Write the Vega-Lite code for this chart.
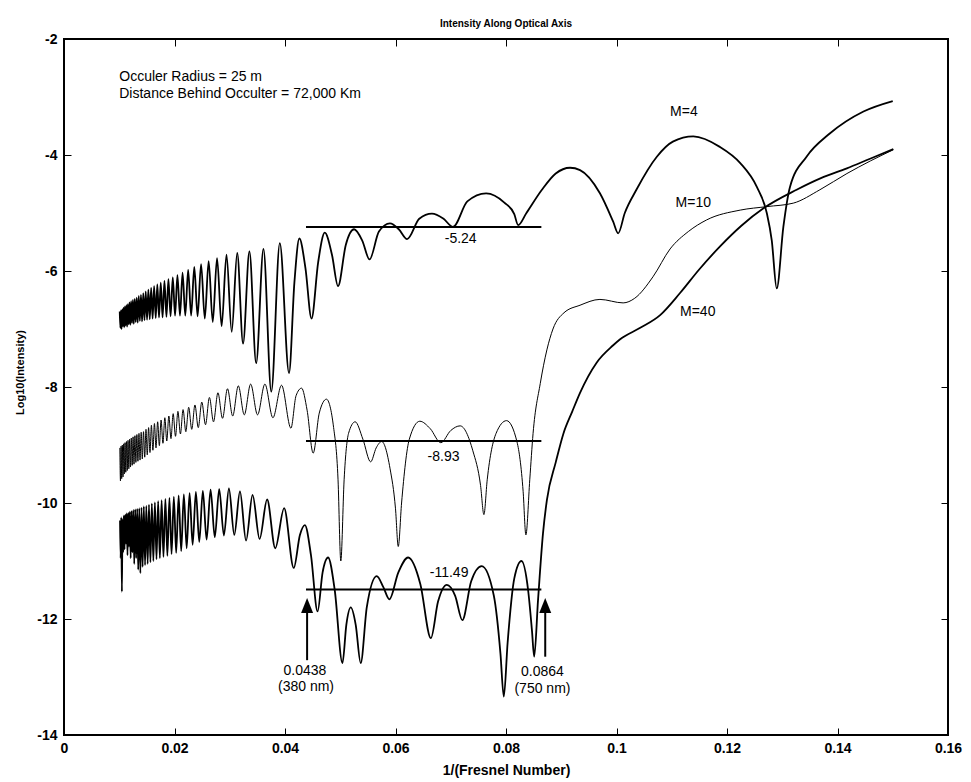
{
  "$schema": "https://vega.github.io/schema/vega-lite/v6.json",
  "width": 884,
  "height": 696,
  "autosize": {"type": "none"},
  "padding": {"left": 64, "top": 39, "right": 23, "bottom": 47},
  "background": "white",
  "title": {"text": "Intensity Along Optical Axis", "font": "Liberation Sans", "fontSize": 10, "fontWeight": "bold", "color": "black", "anchor": "middle", "offset": 3},
  "config": {
    "view": {"stroke": "black", "strokeWidth": 2},
    "axis": {"domain": false, "grid": false, "tickColor": "black", "tickWidth": 1, "tickSize": -7, "labelFont": "Liberation Sans", "labelFontSize": 14, "labelFontWeight": "bold", "labelColor": "black", "labelFlush": false, "labelOverlap": false, "titleFont": "Liberation Sans", "titleColor": "black", "titleFontWeight": "bold"}
  },
  "datasets": {
    "curves": [
      {"s":"M=4","x":0.01009,"y":-6.70},{"s":"M=4","x":0.01020,"y":-6.98},{"s":"M=4","x":0.01031,"y":-6.68},{"s":"M=4","x":0.01042,"y":-7.00},
      {"s":"M=4","x":0.01054,"y":-6.66},{"s":"M=4","x":0.01066,"y":-6.95},{"s":"M=4","x":0.01078,"y":-6.63},{"s":"M=4","x":0.01090,"y":-6.97},
      {"s":"M=4","x":0.01103,"y":-6.61},{"s":"M=4","x":0.01115,"y":-6.94},{"s":"M=4","x":0.01129,"y":-6.59},{"s":"M=4","x":0.01142,"y":-6.96},
      {"s":"M=4","x":0.01156,"y":-6.57},{"s":"M=4","x":0.01170,"y":-6.92},{"s":"M=4","x":0.01185,"y":-6.54},{"s":"M=4","x":0.01200,"y":-6.93},
      {"s":"M=4","x":0.01215,"y":-6.52},{"s":"M=4","x":0.01231,"y":-6.90},{"s":"M=4","x":0.01247,"y":-6.50},{"s":"M=4","x":0.01263,"y":-6.91},
      {"s":"M=4","x":0.01280,"y":-6.48},{"s":"M=4","x":0.01298,"y":-6.88},{"s":"M=4","x":0.01316,"y":-6.46},{"s":"M=4","x":0.01334,"y":-6.89},
      {"s":"M=4","x":0.01353,"y":-6.43},{"s":"M=4","x":0.01373,"y":-6.86},{"s":"M=4","x":0.01393,"y":-6.41},{"s":"M=4","x":0.01413,"y":-6.87},
      {"s":"M=4","x":0.01435,"y":-6.38},{"s":"M=4","x":0.01457,"y":-6.85},{"s":"M=4","x":0.01479,"y":-6.35},{"s":"M=4","x":0.01503,"y":-6.84},
      {"s":"M=4","x":0.01527,"y":-6.32},{"s":"M=4","x":0.01552,"y":-6.83},{"s":"M=4","x":0.01577,"y":-6.29},{"s":"M=4","x":0.01604,"y":-6.82},
      {"s":"M=4","x":0.01631,"y":-6.26},{"s":"M=4","x":0.01660,"y":-6.81},{"s":"M=4","x":0.01689,"y":-6.23},{"s":"M=4","x":0.01720,"y":-6.80},
      {"s":"M=4","x":0.01751,"y":-6.20},{"s":"M=4","x":0.01784,"y":-6.80},{"s":"M=4","x":0.01818,"y":-6.17},{"s":"M=4","x":0.01854,"y":-6.79},
      {"s":"M=4","x":0.01890,"y":-6.14},{"s":"M=4","x":0.01929,"y":-6.78},{"s":"M=4","x":0.01969,"y":-6.11},{"s":"M=4","x":0.02010,"y":-6.77},
      {"s":"M=4","x":0.02053,"y":-6.07},{"s":"M=4","x":0.02099,"y":-6.77},{"s":"M=4","x":0.02146,"y":-6.03},{"s":"M=4","x":0.02195,"y":-6.77},
      {"s":"M=4","x":0.02247,"y":-5.98},{"s":"M=4","x":0.02301,"y":-6.77},{"s":"M=4","x":0.02358,"y":-5.93},{"s":"M=4","x":0.02418,"y":-6.78},
      {"s":"M=4","x":0.02481,"y":-5.88},{"s":"M=4","x":0.02548,"y":-6.82},{"s":"M=4","x":0.02618,"y":-5.83},{"s":"M=4","x":0.02692,"y":-6.88},
      {"s":"M=4","x":0.02770,"y":-5.78},{"s":"M=4","x":0.02853,"y":-6.95},{"s":"M=4","x":0.02941,"y":-5.72},{"s":"M=4","x":0.03035,"y":-7.05},
      {"s":"M=4","x":0.03135,"y":-5.69},{"s":"M=4","x":0.03241,"y":-7.25},{"s":"M=4","x":0.03356,"y":-5.66},{"s":"M=4","x":0.03478,"y":-7.59},
      {"s":"M=4","x":0.03610,"y":-5.62},{"s":"M=4","x":0.03752,"y":-8.08},{"s":"M=4","x":0.03906,"y":-5.52},{"s":"M=4","x":0.04073,"y":-7.76},
      {"s":"M=4","x":0.0417,"y":-6.2},{"s":"M=4","x":0.0426,"y":-5.44},{"s":"M=4","x":0.0437,"y":-5.95},{"s":"M=4","x":0.0448,"y":-6.82},
      {"s":"M=4","x":0.0460,"y":-5.85},{"s":"M=4","x":0.0472,"y":-5.34},{"s":"M=4","x":0.0485,"y":-5.72},{"s":"M=4","x":0.0496,"y":-6.26},
      {"s":"M=4","x":0.0510,"y":-5.55},{"s":"M=4","x":0.0525,"y":-5.28},{"s":"M=4","x":0.0540,"y":-5.48},{"s":"M=4","x":0.0553,"y":-5.80},
      {"s":"M=4","x":0.0570,"y":-5.32},{"s":"M=4","x":0.0590,"y":-5.18},{"s":"M=4","x":0.0606,"y":-5.28},{"s":"M=4","x":0.0621,"y":-5.45},
      {"s":"M=4","x":0.0643,"y":-5.10},{"s":"M=4","x":0.0666,"y":-5.01},{"s":"M=4","x":0.0687,"y":-5.10},{"s":"M=4","x":0.0704,"y":-5.24},
      {"s":"M=4","x":0.0730,"y":-4.80},{"s":"M=4","x":0.0764,"y":-4.66},{"s":"M=4","x":0.0797,"y":-4.82},{"s":"M=4","x":0.0815,"y":-5.02},
      {"s":"M=4","x":0.0822,"y":-5.21},{"s":"M=4","x":0.0837,"y":-5.0},{"s":"M=4","x":0.0865,"y":-4.60},{"s":"M=4","x":0.0890,"y":-4.32},
      {"s":"M=4","x":0.0916,"y":-4.22},{"s":"M=4","x":0.0934,"y":-4.26},{"s":"M=4","x":0.0970,"y":-4.66},{"s":"M=4","x":0.0994,"y":-5.15},
      {"s":"M=4","x":0.1003,"y":-5.35},{"s":"M=4","x":0.1015,"y":-5.0},{"s":"M=4","x":0.1036,"y":-4.60},{"s":"M=4","x":0.1073,"y":-4.03},
      {"s":"M=4","x":0.1102,"y":-3.77},{"s":"M=4","x":0.1139,"y":-3.68},{"s":"M=4","x":0.1187,"y":-3.86},{"s":"M=4","x":0.1224,"y":-4.14},
      {"s":"M=4","x":0.1254,"y":-4.55},{"s":"M=4","x":0.1272,"y":-5.0},{"s":"M=4","x":0.1281,"y":-5.47},{"s":"M=4","x":0.1290,"y":-6.30},
      {"s":"M=4","x":0.1302,"y":-5.24},{"s":"M=4","x":0.1314,"y":-4.55},{"s":"M=4","x":0.1344,"y":-4.03},{"s":"M=4","x":0.1386,"y":-3.63},
      {"s":"M=4","x":0.1447,"y":-3.25},{"s":"M=4","x":0.1500,"y":-3.07},

      {"s":"M=10","x":0.01011,"y":-9.05},{"s":"M=10","x":0.01022,"y":-9.62},{"s":"M=10","x":0.01033,"y":-9.02},{"s":"M=10","x":0.01044,"y":-9.58},
      {"s":"M=10","x":0.01056,"y":-9.00},{"s":"M=10","x":0.01068,"y":-9.55},{"s":"M=10","x":0.01080,"y":-8.98},{"s":"M=10","x":0.01092,"y":-9.50},
      {"s":"M=10","x":0.01105,"y":-8.96},{"s":"M=10","x":0.01118,"y":-9.47},{"s":"M=10","x":0.01131,"y":-8.94},{"s":"M=10","x":0.01145,"y":-9.44},
      {"s":"M=10","x":0.01159,"y":-8.92},{"s":"M=10","x":0.01173,"y":-9.41},{"s":"M=10","x":0.01188,"y":-8.90},{"s":"M=10","x":0.01203,"y":-9.38},
      {"s":"M=10","x":0.01218,"y":-8.88},{"s":"M=10","x":0.01234,"y":-9.35},{"s":"M=10","x":0.01250,"y":-8.86},{"s":"M=10","x":0.01267,"y":-9.33},
      {"s":"M=10","x":0.01284,"y":-8.84},{"s":"M=10","x":0.01301,"y":-9.30},{"s":"M=10","x":0.01319,"y":-8.82},{"s":"M=10","x":0.01338,"y":-9.28},
      {"s":"M=10","x":0.01357,"y":-8.80},{"s":"M=10","x":0.01376,"y":-9.26},{"s":"M=10","x":0.01397,"y":-8.78},{"s":"M=10","x":0.01417,"y":-9.24},
      {"s":"M=10","x":0.01439,"y":-8.77},{"s":"M=10","x":0.01461,"y":-9.21},{"s":"M=10","x":0.01484,"y":-8.73},{"s":"M=10","x":0.01507,"y":-9.17},
      {"s":"M=10","x":0.01531,"y":-8.70},{"s":"M=10","x":0.01556,"y":-9.13},{"s":"M=10","x":0.01582,"y":-8.66},{"s":"M=10","x":0.01609,"y":-9.09},
      {"s":"M=10","x":0.01637,"y":-8.63},{"s":"M=10","x":0.01665,"y":-9.05},{"s":"M=10","x":0.01695,"y":-8.60},{"s":"M=10","x":0.01726,"y":-9.01},
      {"s":"M=10","x":0.01757,"y":-8.57},{"s":"M=10","x":0.01791,"y":-8.97},{"s":"M=10","x":0.01825,"y":-8.53},{"s":"M=10","x":0.01860,"y":-8.93},
      {"s":"M=10","x":0.01898,"y":-8.50},{"s":"M=10","x":0.01936,"y":-8.89},{"s":"M=10","x":0.01976,"y":-8.46},{"s":"M=10","x":0.02018,"y":-8.85},
      {"s":"M=10","x":0.02062,"y":-8.42},{"s":"M=10","x":0.02107,"y":-8.81},{"s":"M=10","x":0.02155,"y":-8.39},{"s":"M=10","x":0.02205,"y":-8.77},
      {"s":"M=10","x":0.02257,"y":-8.35},{"s":"M=10","x":0.02312,"y":-8.73},{"s":"M=10","x":0.02370,"y":-8.31},{"s":"M=10","x":0.02430,"y":-8.70},
      {"s":"M=10","x":0.02494,"y":-8.26},{"s":"M=10","x":0.02561,"y":-8.65},{"s":"M=10","x":0.02632,"y":-8.18},{"s":"M=10","x":0.02706,"y":-8.60},
      {"s":"M=10","x":0.02786,"y":-8.10},{"s":"M=10","x":0.02869,"y":-8.54},{"s":"M=10","x":0.02959,"y":-8.03},{"s":"M=10","x":0.03053,"y":-8.50},
      {"s":"M=10","x":0.03155,"y":-7.98},{"s":"M=10","x":0.03263,"y":-8.48},{"s":"M=10","x":0.03378,"y":-7.95},{"s":"M=10","x":0.03503,"y":-8.48},
      {"s":"M=10","x":0.03636,"y":-7.95},{"s":"M=10","x":0.03781,"y":-8.53},{"s":"M=10","x":0.03937,"y":-7.97},{"s":"M=10","x":0.04107,"y":-8.71},
      {"s":"M=10","x":0.0420,"y":-8.15},{"s":"M=10","x":0.0430,"y":-8.02},{"s":"M=10","x":0.0440,"y":-8.40},{"s":"M=10","x":0.0451,"y":-9.14},
      {"s":"M=10","x":0.0462,"y":-8.45},{"s":"M=10","x":0.0475,"y":-8.21},{"s":"M=10","x":0.0488,"y":-8.70},{"s":"M=10","x":0.0496,"y":-9.60},
      {"s":"M=10","x":0.0501,"y":-11.0},{"s":"M=10","x":0.0507,"y":-9.60},{"s":"M=10","x":0.0515,"y":-8.80},{"s":"M=10","x":0.0527,"y":-8.60},
      {"s":"M=10","x":0.0541,"y":-8.90},{"s":"M=10","x":0.0555,"y":-9.29},{"s":"M=10","x":0.0565,"y":-9.05},{"s":"M=10","x":0.0575,"y":-8.94},
      {"s":"M=10","x":0.0590,"y":-9.40},{"s":"M=10","x":0.0600,"y":-10.1},{"s":"M=10","x":0.0605,"y":-10.75},{"s":"M=10","x":0.0611,"y":-10.0},
      {"s":"M=10","x":0.0625,"y":-8.90},{"s":"M=10","x":0.0644,"y":-8.59},{"s":"M=10","x":0.0663,"y":-8.72},{"s":"M=10","x":0.0682,"y":-8.96},
      {"s":"M=10","x":0.0700,"y":-8.75},{"s":"M=10","x":0.0717,"y":-8.67},{"s":"M=10","x":0.0740,"y":-9.10},{"s":"M=10","x":0.0754,"y":-9.70},
      {"s":"M=10","x":0.0760,"y":-10.2},{"s":"M=10","x":0.0766,"y":-9.60},{"s":"M=10","x":0.0782,"y":-8.80},{"s":"M=10","x":0.0801,"y":-8.58},
      {"s":"M=10","x":0.0820,"y":-8.95},{"s":"M=10","x":0.0831,"y":-9.80},{"s":"M=10","x":0.0836,"y":-10.55},{"s":"M=10","x":0.0843,"y":-9.60},
      {"s":"M=10","x":0.0849,"y":-8.80},{"s":"M=10","x":0.0862,"y":-7.94},{"s":"M=10","x":0.0874,"y":-7.36},{"s":"M=10","x":0.0885,"y":-7.00},
      {"s":"M=10","x":0.0905,"y":-6.72},{"s":"M=10","x":0.0934,"y":-6.59},{"s":"M=10","x":0.0970,"y":-6.49},{"s":"M=10","x":0.1012,"y":-6.55},
      {"s":"M=10","x":0.1033,"y":-6.47},{"s":"M=10","x":0.1066,"y":-6.10},{"s":"M=10","x":0.1097,"y":-5.62},{"s":"M=10","x":0.1130,"y":-5.32},
      {"s":"M=10","x":0.1163,"y":-5.12},{"s":"M=10","x":0.1224,"y":-4.95},{"s":"M=10","x":0.1272,"y":-4.89},{"s":"M=10","x":0.1320,"y":-4.83},
      {"s":"M=10","x":0.1368,"y":-4.60},{"s":"M=10","x":0.1417,"y":-4.32},{"s":"M=10","x":0.1460,"y":-4.10},{"s":"M=10","x":0.1501,"y":-3.91},

      {"s":"M=40","x":0.01014,"y":-10.30},{"s":"M=40","x":0.01025,"y":-10.95},{"s":"M=40","x":0.01036,"y":-10.25},{"s":"M=40","x":0.01048,"y":-11.53},
      {"s":"M=40","x":0.01059,"y":-10.28},{"s":"M=40","x":0.01071,"y":-10.85},{"s":"M=40","x":0.01083,"y":-10.22},{"s":"M=40","x":0.01096,"y":-10.80},
      {"s":"M=40","x":0.01109,"y":-10.20},{"s":"M=40","x":0.01122,"y":-10.70},{"s":"M=40","x":0.01135,"y":-10.18},{"s":"M=40","x":0.01149,"y":-10.90},
      {"s":"M=40","x":0.01163,"y":-10.17},{"s":"M=40","x":0.01177,"y":-10.75},{"s":"M=40","x":0.01192,"y":-10.15},{"s":"M=40","x":0.01207,"y":-10.95},
      {"s":"M=40","x":0.01222,"y":-10.14},{"s":"M=40","x":0.01238,"y":-10.85},{"s":"M=40","x":0.01255,"y":-10.12},{"s":"M=40","x":0.01271,"y":-11.05},
      {"s":"M=40","x":0.01289,"y":-10.11},{"s":"M=40","x":0.01306,"y":-10.95},{"s":"M=40","x":0.01325,"y":-10.10},{"s":"M=40","x":0.01343,"y":-11.15},
      {"s":"M=40","x":0.01362,"y":-10.09},{"s":"M=40","x":0.01382,"y":-11.21},{"s":"M=40","x":0.01403,"y":-10.08},{"s":"M=40","x":0.01423,"y":-11.10},
      {"s":"M=40","x":0.01445,"y":-10.06},{"s":"M=40","x":0.01467,"y":-11.07},{"s":"M=40","x":0.01490,"y":-10.05},{"s":"M=40","x":0.01514,"y":-11.05},
      {"s":"M=40","x":0.01538,"y":-10.03},{"s":"M=40","x":0.01564,"y":-11.02},{"s":"M=40","x":0.01590,"y":-10.01},{"s":"M=40","x":0.01617,"y":-11.00},
      {"s":"M=40","x":0.01645,"y":-9.99},{"s":"M=40","x":0.01674,"y":-10.97},{"s":"M=40","x":0.01704,"y":-9.97},{"s":"M=40","x":0.01735,"y":-10.95},
      {"s":"M=40","x":0.01767,"y":-9.95},{"s":"M=40","x":0.01800,"y":-10.93},{"s":"M=40","x":0.01835,"y":-9.93},{"s":"M=40","x":0.01871,"y":-10.91},
      {"s":"M=40","x":0.01908,"y":-9.91},{"s":"M=40","x":0.01947,"y":-10.88},{"s":"M=40","x":0.01988,"y":-9.89},{"s":"M=40","x":0.02030,"y":-10.86},
      {"s":"M=40","x":0.02075,"y":-9.87},{"s":"M=40","x":0.02121,"y":-10.83},{"s":"M=40","x":0.02169,"y":-9.85},{"s":"M=40","x":0.02220,"y":-10.78},
      {"s":"M=40","x":0.02273,"y":-9.83},{"s":"M=40","x":0.02328,"y":-10.72},{"s":"M=40","x":0.02387,"y":-9.81},{"s":"M=40","x":0.02448,"y":-10.67},
      {"s":"M=40","x":0.02513,"y":-9.79},{"s":"M=40","x":0.02581,"y":-10.63},{"s":"M=40","x":0.02653,"y":-9.77},{"s":"M=40","x":0.02729,"y":-10.59},
      {"s":"M=40","x":0.02809,"y":-9.76},{"s":"M=40","x":0.02894,"y":-10.56},{"s":"M=40","x":0.02985,"y":-9.75},{"s":"M=40","x":0.03082,"y":-10.55},
      {"s":"M=40","x":0.03185,"y":-9.80},{"s":"M=40","x":0.03295,"y":-10.65},{"s":"M=40","x":0.03413,"y":-9.86},{"s":"M=40","x":0.03540,"y":-10.62},
      {"s":"M=40","x":0.03676,"y":-9.94},{"s":"M=40","x":0.03824,"y":-10.78},{"s":"M=40","x":0.03984,"y":-10.09},{"s":"M=40","x":0.04158,"y":-11.12},
      {"s":"M=40","x":0.0427,"y":-10.55},{"s":"M=40","x":0.0436,"y":-10.38},{"s":"M=40","x":0.0447,"y":-10.90},{"s":"M=40","x":0.0459,"y":-11.87},
      {"s":"M=40","x":0.0468,"y":-11.20},{"s":"M=40","x":0.0478,"y":-10.94},{"s":"M=40","x":0.0490,"y":-11.50},{"s":"M=40","x":0.0504,"y":-12.76},
      {"s":"M=40","x":0.0511,"y":-12.10},{"s":"M=40","x":0.0519,"y":-11.80},{"s":"M=40","x":0.0528,"y":-12.10},{"s":"M=40","x":0.0537,"y":-12.76},
      {"s":"M=40","x":0.0548,"y":-11.80},{"s":"M=40","x":0.0566,"y":-11.26},{"s":"M=40","x":0.0578,"y":-11.45},{"s":"M=40","x":0.0589,"y":-11.66},
      {"s":"M=40","x":0.0605,"y":-11.20},{"s":"M=40","x":0.0623,"y":-10.94},{"s":"M=40","x":0.0645,"y":-11.40},{"s":"M=40","x":0.0664,"y":-12.33},
      {"s":"M=40","x":0.0677,"y":-11.70},{"s":"M=40","x":0.0693,"y":-11.41},{"s":"M=40","x":0.0708,"y":-11.60},{"s":"M=40","x":0.0721,"y":-12.02},
      {"s":"M=40","x":0.0737,"y":-11.35},{"s":"M=40","x":0.0756,"y":-11.09},{"s":"M=40","x":0.0778,"y":-11.60},{"s":"M=40","x":0.0790,"y":-12.60},
      {"s":"M=40","x":0.0796,"y":-13.34},{"s":"M=40","x":0.0803,"y":-12.40},{"s":"M=40","x":0.0815,"y":-11.30},{"s":"M=40","x":0.0828,"y":-11.00},
      {"s":"M=40","x":0.0840,"y":-11.50},{"s":"M=40","x":0.0847,"y":-12.20},{"s":"M=40","x":0.0851,"y":-12.65},{"s":"M=40","x":0.0858,"y":-11.67},
      {"s":"M=40","x":0.0867,"y":-10.52},{"s":"M=40","x":0.0874,"y":-9.95},{"s":"M=40","x":0.0890,"y":-9.30},{"s":"M=40","x":0.0904,"y":-8.80},
      {"s":"M=40","x":0.0920,"y":-8.42},{"s":"M=40","x":0.0934,"y":-8.10},{"s":"M=40","x":0.0964,"y":-7.58},{"s":"M=40","x":0.0994,"y":-7.28},
      {"s":"M=40","x":0.1006,"y":-7.18},{"s":"M=40","x":0.1043,"y":-6.98},{"s":"M=40","x":0.1079,"y":-6.76},{"s":"M=40","x":0.1115,"y":-6.38},
      {"s":"M=40","x":0.1150,"y":-5.97},{"s":"M=40","x":0.1187,"y":-5.58},{"s":"M=40","x":0.1226,"y":-5.22},{"s":"M=40","x":0.1266,"y":-4.92},
      {"s":"M=40","x":0.1326,"y":-4.60},{"s":"M=40","x":0.1370,"y":-4.40},{"s":"M=40","x":0.1417,"y":-4.23},{"s":"M=40","x":0.1460,"y":-4.06},
      {"s":"M=40","x":0.1501,"y":-3.90}
    ],
    "hlines": [
      {"x": 0.0438, "x2": 0.0864, "y": -5.24},
      {"x": 0.0438, "x2": 0.0864, "y": -8.93},
      {"x": 0.0438, "x2": 0.0864, "y": -11.49}
    ],
    "arrows": [
      {"x": 0.0440, "y": -12.71, "y2": -11.81},
      {"x": 0.0871, "y": -12.65, "y2": -11.81}
    ],
    "ctext": [
      {"x": 0.1122, "y": -3.26, "t": "M=4"},
      {"x": 0.1139, "y": -4.83, "t": "M=10"},
      {"x": 0.1147, "y": -6.70, "t": "M=40"},
      {"x": 0.0718, "y": -5.44, "t": "-5.24"},
      {"x": 0.0687, "y": -9.21, "t": "-8.93"},
      {"x": 0.0697, "y": -11.20, "t": "-11.49"},
      {"x": 0.0436, "y": -12.89, "t": "0.0438"},
      {"x": 0.0438, "y": -13.17, "t": "(380 nm)"},
      {"x": 0.0866, "y": -12.91, "t": "0.0864"},
      {"x": 0.0866, "y": -13.20, "t": "(750 nm)"}
    ],
    "ltext": [
      {"x": 0.0100, "y": -2.65, "t": "Occuler Radius = 25 m"},
      {"x": 0.0100, "y": -2.94, "t": "Distance Behind Occulter = 72,000 Km"}
    ]
  },
  "layer": [
    {
      "data": {"name": "curves"},
      "transform": [{"filter": "datum.s == 'M=4'"}],
      "mark": {"type": "line", "interpolate": "monotone", "color": "black", "strokeWidth": 1.8},
      "encoding": {
        "x": {"field": "x", "type": "quantitative", "scale": {"domain": [0, 0.16], "nice": false, "zero": false},
              "axis": {"orient": "bottom", "values": [0, 0.02, 0.04, 0.06, 0.08, 0.1, 0.12, 0.14, 0.16], "labelExpr": "'' + datum.value", "labelPadding": 13, "title": "1/(Fresnel Number)", "titleFontSize": 14, "titleY": 35, "titleBaseline": "middle"}},
        "y": {"field": "y", "type": "quantitative", "scale": {"domain": [-14, -2], "nice": false, "zero": false},
              "axis": {"orient": "left", "values": [-14, -12, -10, -8, -6, -4, -2], "labelExpr": "'' + datum.value", "labelPadding": 14, "title": "Log10(Intensity)", "titleFontSize": 11, "titleX": -44, "titleY": 333, "titleBaseline": "middle", "titleAlign": "center", "titleAngle": -90}}
      }
    },
    {
      "data": {"name": "curves"},
      "transform": [{"filter": "datum.s == 'M=10'"}],
      "mark": {"type": "line", "interpolate": "monotone", "color": "black", "strokeWidth": 1},
      "encoding": {
        "x": {"field": "x", "type": "quantitative", "axis": null},
        "y": {"field": "y", "type": "quantitative", "axis": null}
      }
    },
    {
      "data": {"name": "curves"},
      "transform": [{"filter": "datum.s == 'M=40'"}],
      "mark": {"type": "line", "interpolate": "monotone", "color": "black", "strokeWidth": 1.8},
      "encoding": {
        "x": {"field": "x", "type": "quantitative", "axis": null},
        "y": {"field": "y", "type": "quantitative", "axis": null}
      }
    },
    {
      "data": {"name": "hlines"},
      "mark": {"type": "rule", "color": "black", "strokeWidth": 2},
      "encoding": {
        "x": {"field": "x", "type": "quantitative", "axis": {"orient": "top", "values": [0, 0.02, 0.04, 0.06, 0.08, 0.1, 0.12, 0.14, 0.16], "labels": false, "title": null}},
        "x2": {"field": "x2"},
        "y": {"field": "y", "type": "quantitative", "axis": {"orient": "right", "values": [-14, -12, -10, -8, -6, -4, -2], "labels": false, "title": null}}
      }
    },
    {
      "data": {"name": "arrows"},
      "mark": {"type": "rule", "color": "black", "strokeWidth": 2},
      "encoding": {
        "x": {"field": "x", "type": "quantitative", "axis": null},
        "y": {"field": "y", "type": "quantitative", "axis": null},
        "y2": {"field": "y2"}
      }
    },
    {
      "data": {"name": "arrows"},
      "mark": {"type": "point", "shape": "M0,-1L0.6,0.5L-0.6,0.5Z", "size": 400, "filled": true, "color": "black", "opacity": 1},
      "encoding": {
        "x": {"field": "x", "type": "quantitative", "axis": null},
        "y": {"field": "y2", "type": "quantitative", "axis": null}
      }
    },
    {
      "data": {"name": "ctext"},
      "mark": {"type": "text", "font": "Liberation Sans", "fontSize": 14, "align": "center", "baseline": "middle", "color": "black"},
      "encoding": {
        "x": {"field": "x", "type": "quantitative", "axis": null},
        "y": {"field": "y", "type": "quantitative", "axis": null},
        "text": {"field": "t"}
      }
    },
    {
      "data": {"name": "ltext"},
      "mark": {"type": "text", "font": "Liberation Sans", "fontSize": 14, "align": "left", "baseline": "middle", "color": "black"},
      "encoding": {
        "x": {"field": "x", "type": "quantitative", "axis": null},
        "y": {"field": "y", "type": "quantitative", "axis": null},
        "text": {"field": "t"}
      }
    }
  ]
}
